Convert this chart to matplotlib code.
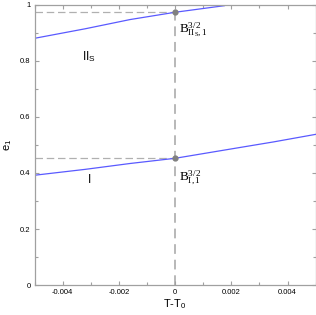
import matplotlib
matplotlib.use('Agg')
import matplotlib.pyplot as plt
from matplotlib.ticker import MultipleLocator

plt.rcParams['font.family'] = ['Liberation Sans', 'DejaVu Sans']
plt.rcParams['mathtext.fontset'] = 'custom'
plt.rcParams['mathtext.rm'] = 'Liberation Serif'
plt.rcParams['mathtext.it'] = 'Liberation Serif:italic'
plt.rcParams['mathtext.sf'] = 'Liberation Sans'

# branch I
x_I = [-0.005, -0.0032, -0.0016, 0.0, 0.002, 0.0035, 0.005]
e_I = [0.392, 0.413, 0.434, 0.4525, 0.486, 0.511, 0.538]

# branch II_S
x_II = [-0.005, -0.0032, -0.0016, 0.0, 0.00175]
e_II = [0.881, 0.915, 0.948, 0.974, 0.9975]

# bifurcation points at T = T0
bx = [0.0, 0.0]
by = [0.4525, 0.974]

gray = '#a0a0a0'

fig = plt.figure(figsize=(3.16, 3.15), dpi=100)
ax = fig.add_axes([0.1095, 0.0952, 0.8895, 0.889])

ax.axvline(0, color='#b8b8b8', lw=1.4, ls=(0, (5, 3)), zorder=1)
for v in by:
    ax.plot([-0.005, 0], [v, v], color='#b0b0b0', lw=0.9, ls=(0, (6, 3)), zorder=1)

ax.plot(x_I, e_I, color='#5a5aff', lw=0.9, zorder=2)
ax.plot(x_II, e_II, color='#5a5aff', lw=0.9, zorder=2)
ax.plot(bx, by, 'o', color='#808080', ms=3.5, zorder=3)

ax.text(-0.0033, 0.815, 'II$_\\mathsf{S}$', fontsize=8.5, ha='left', va='center')
ax.text(-0.0031, 0.375, 'I', fontsize=8.5, ha='left', va='center')
ax.text(0.00015, 0.91, r'$\mathrm{B}^{\mathrm{3/2}}_{\mathrm{II}_\mathrm{S}\mathrm{,1}}$',
        fontsize=9.5, ha='left', va='center')
ax.text(0.00015, 0.385, r'$\mathrm{B}^{\mathrm{3/2}}_{\mathrm{I,1}}$',
        fontsize=9.5, ha='left', va='center')

ax.set_xlim(-0.005, 0.005)
ax.set_ylim(0, 1)
ax.xaxis.set_major_locator(MultipleLocator(0.002))
ax.xaxis.set_minor_locator(MultipleLocator(0.001))
ax.yaxis.set_major_locator(MultipleLocator(0.2))
ax.yaxis.set_minor_locator(MultipleLocator(0.1))
ax.set_xticks([-0.004, -0.002, 0, 0.002, 0.004])
ax.set_xticklabels(['-0.004', '-0.002', '0', '0.002', '0.004'])
ax.set_yticks([0, 0.2, 0.4, 0.6, 0.8, 1])
ax.set_yticklabels(['0', '0.2', '0.4', '0.6', '0.8', '1'])

ax.tick_params(which='both', direction='in', top=True, right=True, color=gray,
               labelsize=5.5, pad=3)
ax.tick_params(which='major', length=3, width=0.8)
ax.tick_params(which='minor', length=2, width=0.8)
for s in ax.spines.values():
    s.set_color(gray)
    s.set_linewidth(0.9)

ax.set_xlabel('T-T$_\\mathsf{0}$', fontsize=8, labelpad=1)
ax.set_ylabel('e$_\\mathsf{1}$', fontsize=8, labelpad=4)

fig.savefig('out.png', dpi=100)
